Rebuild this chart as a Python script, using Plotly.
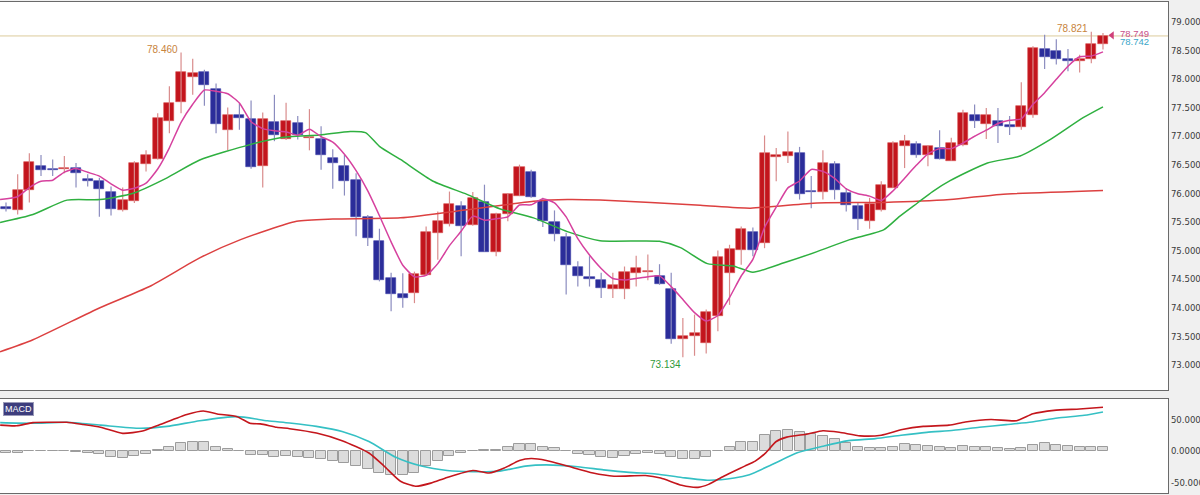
import plotly.graph_objects as go
import pandas as pd

# ---------------- data ----------------
opens = [75.76, 75.70, 76.05, 76.47, 76.43, 76.43, 76.44, 76.25, 76.21, 76.03,
         75.70, 75.86, 76.51, 76.60, 77.26, 77.59, 78.03, 78.12, 77.82, 77.11,
         77.36, 77.30, 76.47, 77.25, 76.94, 77.22, 76.96, 76.94, 76.62, 76.48,
         76.24, 75.59, 75.17, 74.52, 74.24, 74.26, 74.58, 75.31, 75.47, 75.77,
         75.45, 75.85, 74.98, 75.63, 75.96, 76.37, 75.86, 75.50, 75.24, 74.72,
         74.53, 74.49, 74.33, 74.33, 74.61, 74.62, 74.56, 74.33, 73.46, 73.51,
         73.39, 73.86, 74.61, 75.01, 75.33, 75.13, 76.64, 76.65, 76.71, 76.04,
         76.03, 76.51, 76.00, 75.78, 75.52, 75.70, 76.10, 76.82, 76.86, 76.67,
         76.79, 76.57, 76.84, 77.37, 77.21, 77.27, 77.19, 77.16, 77.37, 78.52,
         78.48, 78.34, 78.31, 78.34, 78.61]
highs = [75.84, 76.33, 76.70, 76.67, 76.59, 76.65, 76.53, 76.33, 76.27, 76.12,
         76.10, 76.56, 76.75, 77.40, 77.87, 78.46, 78.35, 78.16, 77.92, 77.50,
         77.57, 77.62, 77.41, 77.72, 77.58, 77.35, 77.47, 77.17, 76.77, 76.67,
         76.35, 75.62, 75.38, 74.61, 74.60, 74.63, 75.42, 75.68, 76.03, 75.86,
         76.02, 76.15, 75.66, 75.99, 76.50, 76.41, 75.92, 75.70, 75.31, 74.81,
         74.90, 74.61, 74.61, 74.72, 74.91, 74.93, 74.76, 74.61, 73.82, 73.88,
         73.97, 75.00, 75.10, 75.42, 75.40, 77.01, 76.79, 77.08, 76.81, 76.30,
         76.75, 76.56, 76.09, 75.83, 75.92, 76.21, 76.91, 77.02, 76.91, 76.84,
         77.10, 76.97, 77.46, 77.55, 77.49, 77.49, 77.35, 77.94, 78.57, 78.77,
         78.69, 78.52, 78.42, 78.821, 78.80]
lows = [75.68, 75.63, 75.84, 76.30, 76.30, 76.35, 76.10, 76.12, 75.59, 75.61,
        75.68, 75.83, 76.38, 76.59, 77.05, 77.40, 77.72, 77.53, 77.05, 76.75,
        77.11, 76.43, 76.10, 76.91, 76.93, 76.94, 76.75, 76.41, 76.08, 75.96,
        75.25, 75.08, 74.46, 73.94, 74.00, 74.08, 74.56, 74.84, 75.42, 74.90,
        75.43, 74.98, 74.90, 75.51, 75.95, 75.92, 75.41, 75.16, 74.23, 74.37,
        74.37, 74.17, 74.17, 74.15, 74.37, 74.48, 74.40, 73.37, 73.134, 73.16,
        73.20, 73.59, 74.05, 74.75, 74.90, 75.04, 76.21, 76.53, 75.89, 75.74,
        75.89, 75.89, 75.68, 75.36, 75.38, 75.68, 76.09, 76.44, 76.62, 76.47,
        76.59, 76.57, 76.82, 77.14, 76.95, 76.88, 77.02, 77.11, 77.32, 78.17,
        78.25, 78.13, 78.11, 78.27, 78.51]
closes = [75.73, 76.05, 76.54, 76.41, 76.41, 76.44, 76.36, 76.21, 76.08, 75.73,
          75.89, 76.52, 76.66, 77.32, 77.58, 78.12, 78.10, 77.90, 77.21, 77.36,
          77.32, 76.46, 77.30, 77.02, 77.27, 77.02, 76.98, 76.66, 76.53, 76.21,
          75.59, 75.22, 74.49, 74.24, 74.17, 74.59, 75.33, 75.52, 75.81, 75.43,
          75.91, 74.98, 75.64, 75.98, 76.46, 75.93, 75.51, 75.28, 74.75, 74.56,
          74.50, 74.34, 74.40, 74.62, 74.70, 74.65, 74.41, 73.46, 73.50, 73.55,
          73.92, 74.89, 75.03, 75.38, 75.01, 76.70, 76.66, 76.72, 75.98, 76.02,
          76.53, 76.05, 75.80, 75.55, 75.82, 76.15, 76.88, 76.92, 76.67, 76.83,
          76.60, 76.88, 77.40, 77.27, 77.36, 77.18, 77.16, 77.53, 78.54, 78.38,
          78.34, 78.31, 78.35, 78.60, 78.749]

# short MA (5) - first values (need earlier bars)
pink_head = [75.89, 75.94, 76.10, 76.21]

# middle MA (green), sampled (bar position, price)
green_x = [-0.51, 2.31, 5.23, 8.05, 10.9, 13.8, 16.6, 20.9, 23.5, 26.9, 29.5, 30.8,
           32.0, 33.8, 36.6, 39.5, 42.3, 45.2, 48.1, 50.9, 56.0, 57.8, 60.1, 62.3,
           64.0, 66.6, 69.5, 72.3, 75.2, 76.6, 78.1, 79.4, 80.9, 84.1, 86.9, 89.5,
           92.3, 94.0]
green_y = [75.49, 75.63, 75.88, 75.89, 76.00, 76.27, 76.58, 76.85, 76.97, 77.02, 77.08, 77.06,
           76.82, 76.59, 76.21, 75.98, 75.73, 75.57, 75.33, 75.17, 75.16, 75.05, 74.77, 74.73,
           74.62, 74.78, 74.98, 75.19, 75.36, 75.60, 75.83, 76.03, 76.22, 76.53, 76.65, 76.94,
           77.32, 77.51]

# long MA (red), sampled
red_x = [-0.51, 2.31, 8.05, 12.3, 16.6, 20.1, 24.9, 28.0, 33.8, 39.5, 45.2, 48.1,
         50.9, 59.5, 63.8, 69.5, 75.2, 80.9, 85.2, 94.0]
red_y = [73.23, 73.44, 74.00, 74.37, 74.87, 75.19, 75.51, 75.55, 75.57, 75.71, 75.86, 75.89,
         75.88, 75.79, 75.74, 75.83, 75.84, 75.89, 75.98, 76.05]

# MACD histogram per bar
macd_hist = [-3, -3, -0.5, -0.5, 0.5, 0.5, -1, -3, -5, -9,
             -10.6, -7.4, -4.8, 1, 5.8, 12, 14.8, 13.8, 6.9, 2.6,
             0.5, -6.3, -6.3, -9, -7.4, -10, -11, -12.7, -16, -19,
             -24, -28.6, -35, -38.6, -38.6, -35, -24, -16, -8, -3,
             0.5, 1, 2, 6, 11, 11, 7, 4, 0.5, -5,
             -7, -10, -11, -8, -5, -3, -4, -10, -12, -12,
             -9.5, 0.5, 6, 14, 15, 26, 31, 34, 30, 27,
             23, 19, 13, 6, 4, 5, 7, 11, 9, 8.5,
             6, 5, 8.5, 7, 7, 5, 3, 4, 10, 12,
             10, 8.5, 7, 7, 6.5]

# MACD line (red) sampled
macd_x = [-0.5, 0.9, 2.3, 3.8, 5.2, 6.6, 8.1, 10, 11.7, 13.2, 15.5, 16.9, 18.1, 19.8,
          20.9, 21.8, 23.2, 24.3, 26.6, 28.8, 31.1, 32.4, 33.8, 35.1, 36.4, 37.8, 40,
          41.4, 42.7, 44, 45, 46.3, 48.1, 50.3, 52.1, 54.8, 56.1, 57.9, 59.3, 60.2,
          61.5, 63.3, 64.2, 65.1, 66, 66.9, 68.7, 70, 71.4, 73.2, 75, 76.8, 78.6,
          80.8, 82.2, 84.4, 86.6, 88, 89.8, 92, 94]
macd_y = [41, 40, 45, 45.5, 45.5, 42, 37.6, 28, 31.7, 42, 58, 63.5, 58.7, 54.5,
          44, 43, 37.6, 35.4, 28.6, 16.4, -3.2, -24, -48, -56, -51, -42, -31,
          -35, -27, -15, -12, -15, -24, -35, -40, -39, -43, -54.5, -57.7, -53,
          -40, -24, -16, -3, 15, 22, 27, 32, 29.6, 24, 25, 34, 39,
          41, 46, 50, 48, 59, 64.5, 66.7, 69.3]

# Signal line (cyan) sampled
sig_x = [-0.5, 2.3, 5.2, 8.1, 11.5, 13.8, 16.6, 19.8, 22.4, 24.3, 26.6, 28.8, 31.1,
         33.4, 35.6, 37.8, 40, 42.3, 44.5, 46.3, 49, 51.2, 53.4, 55.7, 57.9, 60.2,
         62.4, 63.7, 65.6, 67.8, 70, 72.2, 74.5, 76.7, 78.9, 81.2, 83.4, 85.7, 87.9,
         90.1, 92.4, 94]
sig_y = [45, 44, 45.5, 41, 36, 39, 48, 54.5, 48, 44.4, 39, 31, 15,
         -10, -24, -31, -33, -32, -24, -22, -25, -30, -34, -36.5, -42, -46.5,
         -43, -37.6, -22, -3, 7.4, 16.4, 19.6, 25, 29.6, 32.8, 37.6, 41.8, 46,
         52.4, 56.6, 62]

price_ticks = [73.0, 73.5, 74.0, 74.5, 75.0, 75.5, 76.0, 76.5, 77.0, 77.5, 78.0, 78.5, 79.0]
price_ticktext = ["73.000", "73.500", "74.000", "74.500", "75.000", "75.500", "76.000",
                  "76.500", "77.000", "77.500", "78.000", "78.500", "79.000"]
macd_ticks = [50, 0, -50]
macd_ticktext = ["50.0000", "0.0000", "-50.000"]

high_label = "78.460"
high2_label = "78.821"
low_label = "73.134"
last_price = 78.749
last_price2 = 78.742

# ---------------- styling ----------------
UP = "#c3151d"
DOWN = "#2b2d9a"
UP_WICK = "#d98c8c"
DOWN_WICK = "#8b8cbf"
W, H = 1200, 495
PLOT_W = 1168

idx = list(range(len(closes)))
pink_ma = pink_head + pd.Series(closes).rolling(5).mean().tolist()[len(pink_head):]

fig = go.Figure()

# wicks
for up, col in ((True, UP_WICK), (False, DOWN_WICK)):
    wx, wy = [], []
    for i in idx:
        if (closes[i] >= opens[i]) == up:
            wx += [i, i, None]
            wy += [lows[i], highs[i], None]
    fig.add_trace(go.Scatter(x=wx, y=wy, mode="lines", line=dict(color=col, width=1.2),
                             hoverinfo="skip", showlegend=False, xaxis="x", yaxis="y"))

# bodies
base, height, colors, lcolors = [], [], [], []
min_h = 0.02
for i in idx:
    o, c = opens[i], closes[i]
    lo, hi = min(o, c), max(o, c)
    h = hi - lo
    if h < min_h:
        mid = (lo + hi) / 2
        lo, h = mid - min_h / 2, min_h
    base.append(lo)
    height.append(h)
    colors.append(UP if c >= o else DOWN)
    lcolors.append("#d84a4a" if c >= o else "#3a3ca8")
fig.add_trace(go.Bar(x=idx, y=height, base=base, width=0.86,
                     marker=dict(color=colors, line=dict(color=lcolors, width=0.6)),
                     showlegend=False, hoverinfo="skip", xaxis="x", yaxis="y"))

# moving averages
fig.add_trace(go.Scatter(x=red_x, y=red_y, mode="lines", line=dict(color="#dc4040", width=1.5, shape="spline", smoothing=0.6),
                         showlegend=False, hoverinfo="skip", xaxis="x", yaxis="y"))
fig.add_trace(go.Scatter(x=green_x, y=green_y, mode="lines", line=dict(color="#2fb040", width=1.5, shape="spline", smoothing=0.6),
                         showlegend=False, hoverinfo="skip", xaxis="x", yaxis="y"))
fig.add_trace(go.Scatter(x=[-0.51] + idx[1:], y=pink_ma, mode="lines",
                         line=dict(color="#d6419e", width=1.5, shape="spline", smoothing=0.5),
                         showlegend=False, hoverinfo="skip", xaxis="x", yaxis="y"))

# last price marker
fig.add_trace(go.Scatter(x=[94.77], y=[last_price + 0.01], mode="markers",
                         marker=dict(symbol="triangle-left", size=7, color="#d0407a"),
                         showlegend=False, hoverinfo="skip", xaxis="x", yaxis="y"))

# MACD panel
fig.add_trace(go.Bar(x=idx, y=macd_hist, width=0.86,
                     marker=dict(color="#dcdcdc", line=dict(color="#9c9c9c", width=1)),
                     showlegend=False, hoverinfo="skip", xaxis="x2", yaxis="y2"))
fig.add_trace(go.Scatter(x=sig_x, y=sig_y, mode="lines",
                         line=dict(color="#35c0c4", width=1.6, shape="spline", smoothing=0.6),
                         showlegend=False, hoverinfo="skip", xaxis="x2", yaxis="y2"))
fig.add_trace(go.Scatter(x=macd_x, y=macd_y, mode="lines",
                         line=dict(color="#c4161c", width=1.6, shape="spline", smoothing=0.6),
                         showlegend=False, hoverinfo="skip", xaxis="x2", yaxis="y2"))

def py(px):
    return 1 - px / H

xr = [-6 / 11.67, (PLOT_W - 6) / 11.67]
tickfont = dict(family="Liberation Sans Narrow, Arial Narrow, DejaVu Sans Condensed, sans-serif",
                size=9.5, color="#3a3a3a")
lblfont = "Liberation Sans, Arial, sans-serif"

fig.update_layout(
    width=W, height=H, autosize=False,
    margin=dict(l=0, r=W - PLOT_W, t=0, b=0, autoexpand=False),
    paper_bgcolor="#f0f0f0", plot_bgcolor="#ffffff",
    barmode="overlay", bargap=0, showlegend=False,
    xaxis=dict(domain=[0, 1], anchor="y", range=xr, showticklabels=False, showgrid=False,
               zeroline=False, showline=True, mirror=True, linecolor="#6a6a6a", linewidth=1, ticks=""),
    yaxis=dict(domain=[py(390), py(2)], anchor="x", side="right", range=[72.562, 79.342],
               tickvals=price_ticks, ticktext=price_ticktext, tickfont=tickfont,
               showgrid=False, zeroline=False, showline=True, mirror=True,
               linecolor="#6a6a6a", linewidth=1, ticks=""),
    xaxis2=dict(domain=[0, 1], anchor="y2", range=xr, showticklabels=False, showgrid=False,
                zeroline=False, showline=True, mirror=True, linecolor="#6a6a6a", linewidth=1, ticks=""),
    yaxis2=dict(domain=[py(493), py(399)], anchor="x2", side="right", range=[-66.7, 82.5],
                tickvals=macd_ticks, ticktext=macd_ticktext, tickfont=tickfont,
                showgrid=False, zeroline=False, showline=True, mirror=True,
                linecolor="#6a6a6a", linewidth=1, ticks=""),
    shapes=[
        dict(type="line", xref="paper", yref="y", x0=0, x1=1, y0=last_price, y1=last_price,
             line=dict(color="#dccb9c", width=1), layer="below"),
    ],
    annotations=[
        dict(x=15, y=highs[15], xref="x", yref="y", text=high_label, showarrow=False,
             xanchor="right", yanchor="middle", xshift=-1, yshift=3,
             font=dict(family=lblfont, size=10, color="#c8843c")),
        dict(x=93, y=highs[93], xref="x", yref="y", text=high2_label, showarrow=False,
             xanchor="right", yanchor="middle", xshift=-1, yshift=3,
             font=dict(family=lblfont, size=10, color="#c8843c")),
        dict(x=58, y=lows[58], xref="x", yref="y", text=low_label, showarrow=False,
             xanchor="right", yanchor="middle", xshift=0, yshift=-7,
             font=dict(family=lblfont, size=10, color="#2f9a3a")),
        dict(x=1118 / PLOT_W, y=py(33.5), xref="paper", yref="paper", text=f"{last_price:.3f}",
             showarrow=False, xanchor="left", yanchor="middle",
             font=dict(family=lblfont, size=9.5, color="#c8508a")),
        dict(x=1118 / PLOT_W, y=py(42), xref="paper", yref="paper", text=f"{last_price2:.3f}",
             showarrow=False, xanchor="left", yanchor="middle",
             font=dict(family=lblfont, size=9.5, color="#3aa6c8")),
        dict(x=3 / PLOT_W, y=py(409), xref="paper", yref="paper", text="MACD",
             showarrow=False, xanchor="left", yanchor="middle", bgcolor="#3d3d7d",
             bordercolor="#9a9ab8", borderwidth=1, borderpad=1,
             font=dict(family=lblfont, size=9, color="#ffffff")),
    ],
)

fig.write_html("out.html", config={"displayModeBar": False},
               post_script="document.body.style.margin='0px';document.body.style.overflow='hidden';")
